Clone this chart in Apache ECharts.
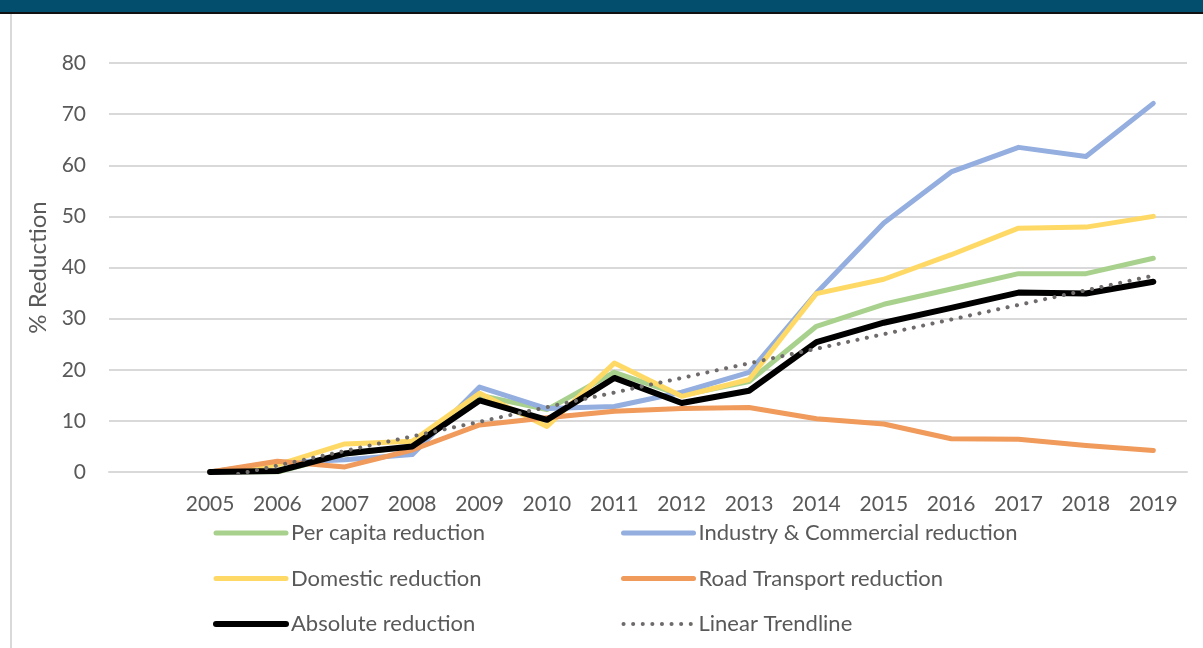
<!DOCTYPE html>
<html>
<head>
<meta charset="utf-8">
<script src="https://cdn.jsdelivr.net/npm/echarts@6/dist/echarts.min.js"></script>
<style>
  html, body { margin: 0; padding: 0; background: #fff; }
  #chart { width: 1203px; height: 648px; }
</style>
</head>
<body>
<div id="chart"></div>
<script>
// first slot of the category axis is left blank, like the original sheet
const years = ["", "2005", "2006", "2007", "2008", "2009", "2010", "2011", "2012",
  "2013", "2014", "2015", "2016", "2017", "2018", "2019"];

const perCapita = [null, 0, 0, 3.5, 5, 15, 12.2, 19.5, 15, 17.7, 28.5, 32.8, 35.8, 38.8, 38.8, 41.8];
const industry = [null, 0, 1.8, 2.4, 3.4, 16.6, 12.4, 12.8, 15.6, 19.5, 35, 48.7, 58.7, 63.5, 61.7, 72.1];
const domestic = [null, 0, 1.4, 5.5, 6, 15.4, 8.9, 21.3, 14.8, 18.1, 34.9, 37.7, 42.5, 47.7, 47.9, 50];
const roadTransport = [null, 0, 2.1, 1, 4.3, 9.2, 10.6, 11.9, 12.4, 12.6, 10.4, 9.4, 6.5, 6.4, 5.2, 4.2];
const absolute = [null, 0, 0.2, 3.6, 5, 14, 10.2, 18.4, 13.5, 15.9, 25.4, 29.2, 32.1, 35.1, 34.9, 37.2];
// trendline read at its two ends only (2005 and 2019)
const trendline = [null, -1.6, null, null, null, null, null, null, null, null, null, null, null, null, null, 38.4];

const font = "Lato, 'Open Sans', sans-serif";
const textColor = "#595959";

const colors = {
  perCapita: "#a9d18e",
  industry: "#93aedf",
  domestic: "#ffd966",
  road: "#f09a5b",
  absolute: "#000000",
  trend: "#6f6b6b",
};
const trendStyle = { color: colors.trend, width: 4, type: [0.1, 9.5], cap: "round" };

const lineSeries = (name, data, color, width) => ({
  name: name,
  type: "line",
  data: data,
  symbol: "none",
  connectNulls: false,
  lineStyle: { color: color, width: width, cap: "round", join: "round" },
  itemStyle: { color: color },
  emphasis: { disabled: true },
});

// legend entry: a plain line, no marker in the middle
const legendItem = (name, lineStyle) => ({
  name: name,
  itemStyle: { opacity: 0 },
  lineStyle: lineStyle,
});

var chartDom = document.getElementById("chart");
var myChart = echarts.init(chartDom);

const legendText = { color: textColor, fontSize: 22, fontFamily: font, lineHeight: 24 };
const legendBase = {
  orient: "vertical",
  top: 521,
  padding: 0,
  itemWidth: 70,
  itemHeight: 14,
  itemGap: 21.5,
  textStyle: legendText,
};

var option = {
  animation: false,
  textStyle: { fontFamily: font },
  grid: { left: 109, right: 16, top: 63, bottom: 176 },
  graphic: [
    { type: "rect", shape: { x: 0, y: 0, width: 1203, height: 12 }, style: { fill: "#024e6c" } },
    { type: "rect", shape: { x: 0, y: 12, width: 1203, height: 2 }, style: { fill: "#111" } },
    { type: "rect", shape: { x: 10, y: 14, width: 2, height: 634 }, style: { fill: "#d9d9d9" } },
  ],
  legend: [
    Object.assign({}, legendBase, {
      left: 213,
      data: [
        legendItem("Per capita reduction", { color: colors.perCapita, width: 5, cap: "round" }),
        legendItem("Domestic reduction", { color: colors.domestic, width: 5, cap: "round" }),
        legendItem("Absolute reduction", { color: colors.absolute, width: 6, cap: "round" }),
      ],
    }),
    Object.assign({}, legendBase, {
      left: 621,
      data: [
        legendItem("Industry & Commercial reduction", { color: colors.industry, width: 5, cap: "round" }),
        legendItem("Road Transport reduction", { color: colors.road, width: 5, cap: "round" }),
        legendItem("Linear Trendline", trendStyle),
      ],
    }),
  ],
  xAxis: {
    type: "category",
    data: years,
    boundaryGap: true,
    axisLine: { show: true, lineStyle: { color: "#d9d9d9", width: 2 } },
    axisTick: { show: false },
    axisLabel: { color: textColor, fontSize: 21, fontFamily: font, margin: 22, interval: 0 },
  },
  yAxis: {
    type: "value",
    min: 0,
    max: 80,
    interval: 10,
    name: "% Reduction",
    nameLocation: "middle",
    nameGap: 56,
    nameTextStyle: { color: textColor, fontSize: 24, fontFamily: font },
    axisLine: { show: false },
    axisTick: { show: false },
    axisLabel: { color: textColor, fontSize: 21, fontFamily: font, margin: 23 },
    splitLine: { lineStyle: { color: "#d9d9d9", width: 2 } },
  },
  series: [
    lineSeries("Per capita reduction", perCapita, colors.perCapita, 5),
    lineSeries("Industry & Commercial reduction", industry, colors.industry, 5),
    lineSeries("Domestic reduction", domestic, colors.domestic, 5),
    lineSeries("Road Transport reduction", roadTransport, colors.road, 5),
    lineSeries("Absolute reduction", absolute, colors.absolute, 6),
    {
      name: "Linear Trendline",
      type: "line",
      data: trendline,
      symbol: "none",
      connectNulls: true,
      clip: true,
      lineStyle: trendStyle,
      itemStyle: { color: colors.trend },
      emphasis: { disabled: true },
    },
  ],
};

option && myChart.setOption(option);
</script>
</body>
</html>
